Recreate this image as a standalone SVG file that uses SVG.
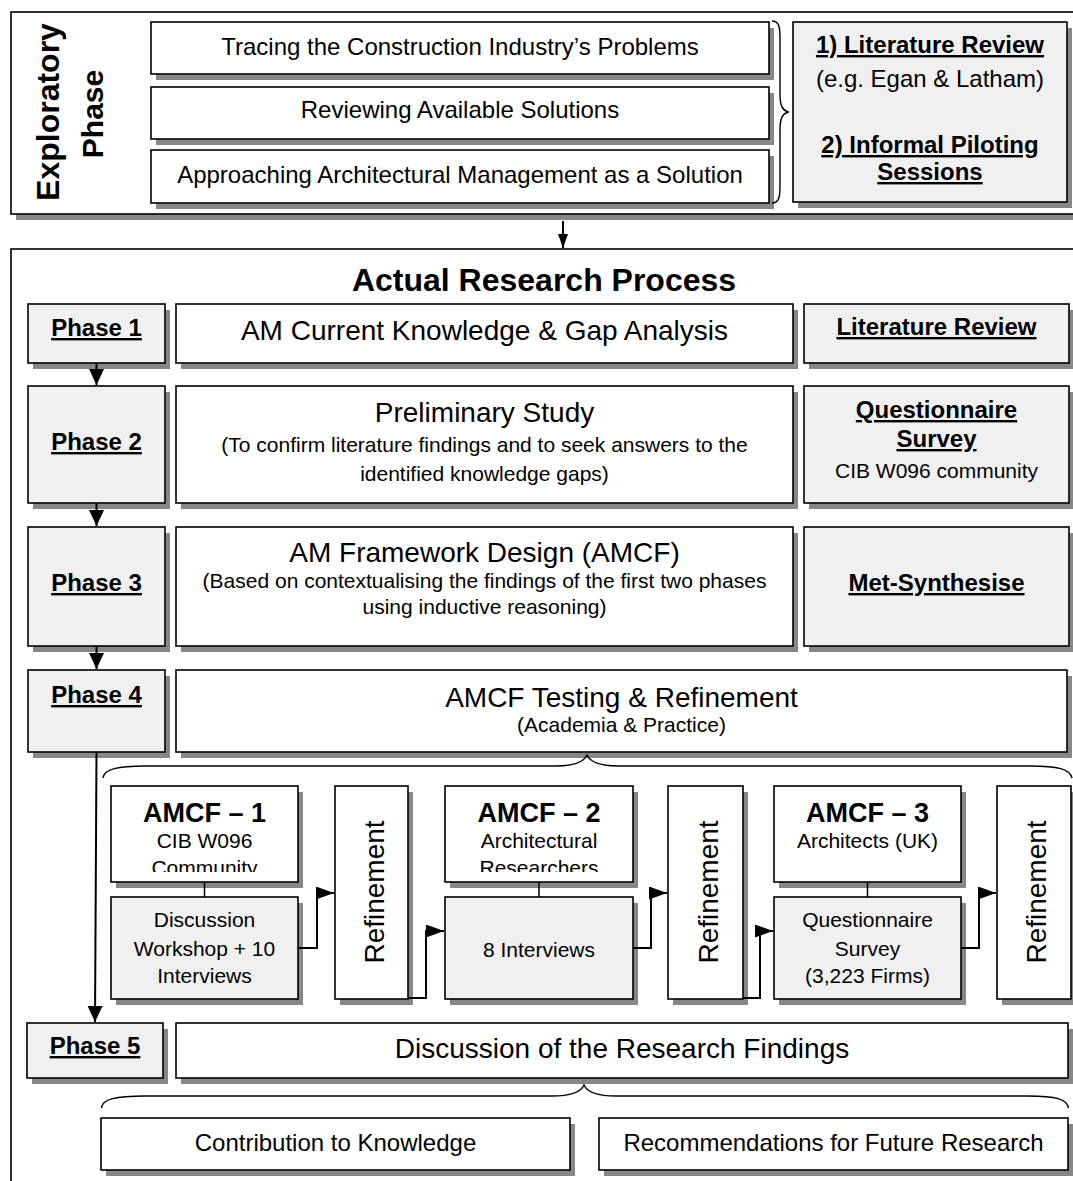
<svg xmlns="http://www.w3.org/2000/svg" width="1073" height="1181" viewBox="0 0 1073 1181">
  <style>
    .box { fill: #ffffff; stroke: #000000; stroke-width: 1.6; }
    .gbox { fill: #f0f0f0; stroke: #000000; stroke-width: 1.6; }
    .sh { fill: #878787; }
    .t { font-family: "Liberation Sans", Arial, sans-serif; fill: #000000; text-anchor: middle; }
    .b { font-weight: bold; }
    .u { text-decoration: underline; }
    .f21 { font-size: 21px; }
    .f24 { font-size: 24px; }
    .f27 { font-size: 27px; }
    .f28 { font-size: 28px; }
    .f30 { font-size: 30px; }
    .f32 { font-size: 32px; }
    .conn { fill: none; stroke: #000000; stroke-width: 2; }
    .tie { fill: none; stroke: #000000; stroke-width: 1.5; }
    .brace { fill: none; stroke: #000000; stroke-width: 1.4; }
  </style>
  <defs>
    <marker id="ah" markerUnits="userSpaceOnUse" markerWidth="16" markerHeight="16" refX="16" refY="7.5" orient="auto">
      <path d="M0,0 L16,7.5 L0,15 z" fill="#000"/>
    </marker>
    <marker id="ahm" markerUnits="userSpaceOnUse" markerWidth="18" markerHeight="14" refX="18" refY="6.5" orient="auto">
      <path d="M0,0 L18,6.5 L0,13 z" fill="#000"/>
    </marker>
    <marker id="ahs" markerUnits="userSpaceOnUse" markerWidth="14" markerHeight="11" refX="14" refY="5" orient="auto">
      <path d="M0,0 L14,5 L0,10 z" fill="#000"/>
    </marker>
    <clipPath id="hdrclip" clipPathUnits="userSpaceOnUse">
      <rect x="100" y="786" width="880" height="86"/>
    </clipPath>
  </defs>

  <rect width="1073" height="1181" fill="#ffffff"/>

  <!-- Exploratory phase panel -->
  <g id="exploratory-phase">
    <rect class="sh" x="16" y="18" width="1080" height="202"/>
    <rect class="box" x="11" y="12" width="1080" height="202"/>
    <text class="t b f32" transform="translate(58.5,112) rotate(-90)">Exploratory</text>
    <text class="t b f30" transform="translate(103,114) rotate(-90)">Phase</text>
  </g>

  <g id="exp-problems">
    <rect class="sh" x="156" y="28" width="618" height="52"/>
    <rect class="box" x="151" y="22" width="618" height="52"/>
    <text class="t f24" x="460" y="55">Tracing the Construction Industry’s Problems</text>
  </g>
  <g id="exp-solutions">
    <rect class="sh" x="156" y="93" width="618" height="52"/>
    <rect class="box" x="151" y="87" width="618" height="52"/>
    <text class="t f24" x="460" y="118">Reviewing Available Solutions</text>
  </g>
  <g id="exp-approach">
    <rect class="sh" x="156" y="156" width="618" height="53"/>
    <rect class="box" x="151" y="150" width="618" height="53"/>
    <text class="t f24" x="460" y="183">Approaching Architectural Management as a Solution</text>
  </g>
  <g id="exp-methods">
    <rect class="sh" x="798" y="28" width="274" height="180"/>
    <rect class="gbox" x="793" y="22" width="274" height="180"/>
    <text class="t b u f24" x="930" y="53">1) Literature Review</text>
    <text class="t f24" x="930" y="87">(e.g. Egan &amp; Latham)</text>
    <text class="t b u f24" x="930" y="153">2) Informal Piloting</text>
    <text class="t b u f24" x="930" y="180">Sessions</text>
  </g>

  <!-- Actual research process panel -->
  <g id="research-process">
    <rect class="box" x="11" y="249" width="1100" height="1000"/>
    <text class="t b f32" x="544" y="291">Actual Research Process</text>
  </g>

  <!-- Phase 1 -->
  <g id="phase1">
    <rect class="sh" x="33" y="310" width="137" height="59"/>
    <rect class="gbox" x="28" y="304" width="137" height="59"/>
    <text class="t b u f24" x="96.5" y="336">Phase 1</text>
  </g>
  <g id="phase1-task">
    <rect class="sh" x="181" y="310" width="617" height="59"/>
    <rect class="box" x="176" y="304" width="617" height="59"/>
    <text class="t f28" x="484.5" y="340">AM Current Knowledge &amp; Gap Analysis</text>
  </g>
  <g id="phase1-method">
    <rect class="sh" x="809" y="310" width="265" height="59"/>
    <rect class="gbox" x="804" y="304" width="265" height="59"/>
    <text class="t b u f24" x="936.5" y="335">Literature Review</text>
  </g>

  <!-- Phase 2 -->
  <g id="phase2">
    <rect class="sh" x="33" y="392" width="137" height="117"/>
    <rect class="gbox" x="28" y="386" width="137" height="117"/>
    <text class="t b u f24" x="96.5" y="450">Phase 2</text>
  </g>
  <g id="phase2-task">
    <rect class="sh" x="181" y="392" width="617" height="117"/>
    <rect class="box" x="176" y="386" width="617" height="117"/>
    <text class="t f28" x="484.5" y="422">Preliminary Study</text>
    <text class="t f21" x="484.5" y="452">(To confirm literature findings and to seek answers to the</text>
    <text class="t f21" x="484.5" y="481">identified knowledge gaps)</text>
  </g>
  <g id="phase2-method">
    <rect class="sh" x="809" y="392" width="265" height="117"/>
    <rect class="gbox" x="804" y="386" width="265" height="117"/>
    <text class="t b u f24" x="936.5" y="418">Questionnaire</text>
    <text class="t b u f24" x="936.5" y="447">Survey</text>
    <text class="t f21" x="936.5" y="478">CIB W096 community</text>
  </g>

  <!-- Phase 3 -->
  <g id="phase3">
    <rect class="sh" x="33" y="533" width="137" height="119"/>
    <rect class="gbox" x="28" y="527" width="137" height="119"/>
    <text class="t b u f24" x="96.5" y="591">Phase 3</text>
  </g>
  <g id="phase3-task">
    <rect class="sh" x="181" y="533" width="617" height="119"/>
    <rect class="box" x="176" y="527" width="617" height="119"/>
    <text class="t f28" x="484.5" y="562">AM Framework Design (AMCF)</text>
    <text class="t f21" x="484.5" y="588">(Based on contextualising the findings of the first two phases</text>
    <text class="t f21" x="484.5" y="614">using inductive reasoning)</text>
  </g>
  <g id="phase3-method">
    <rect class="sh" x="809" y="533" width="265" height="119"/>
    <rect class="gbox" x="804" y="527" width="265" height="119"/>
    <text class="t b u f24" x="936.5" y="591">Met-Synthesise</text>
  </g>

  <!-- Phase 4 -->
  <g id="phase4">
    <rect class="sh" x="33" y="676" width="137" height="82"/>
    <rect class="gbox" x="28" y="670" width="137" height="82"/>
    <text class="t b u f24" x="96.5" y="703">Phase 4</text>
  </g>
  <g id="phase4-task">
    <rect class="sh" x="181" y="676" width="891" height="82"/>
    <rect class="box" x="176" y="670" width="891" height="82"/>
    <text class="t f28" x="621.5" y="707">AMCF Testing &amp; Refinement</text>
    <text class="t f21" x="621.5" y="732">(Academia &amp; Practice)</text>
  </g>

  <!-- AMCF testing rounds -->
  <g id="amcf1">
    <rect class="sh" x="116" y="792" width="187" height="96"/>
    <rect class="box" x="111" y="786" width="187" height="96"/>
    <text class="t b f27" x="204.5" y="822">AMCF – 1</text>
    <g clip-path="url(#hdrclip)">
      <text class="t f21" x="204.5" y="848">CIB W096</text>
      <text class="t f21" x="204.5" y="875">Community</text>
    </g>
  </g>
  <g id="amcf1-method">
    <rect class="sh" x="116" y="903" width="187" height="102"/>
    <rect class="gbox" x="111" y="897" width="187" height="102"/>
    <text class="t f21" x="204.5" y="927">Discussion</text>
    <text class="t f21" x="204.5" y="956">Workshop + 10</text>
    <text class="t f21" x="204.5" y="983">Interviews</text>
  </g>
  <g id="refinement1">
    <rect class="sh" x="340" y="792" width="73" height="213"/>
    <rect class="box" x="335" y="786" width="73" height="213"/>
    <text class="t f28" transform="translate(383.5,892) rotate(-90)">Refinement</text>
  </g>

  <g id="amcf2">
    <rect class="sh" x="450" y="792" width="188" height="96"/>
    <rect class="box" x="445" y="786" width="188" height="96"/>
    <text class="t b f27" x="539" y="822">AMCF – 2</text>
    <g clip-path="url(#hdrclip)">
      <text class="t f21" x="539" y="848">Architectural</text>
      <text class="t f21" x="539" y="875">Researchers</text>
    </g>
  </g>
  <g id="amcf2-method">
    <rect class="sh" x="450" y="903" width="188" height="102"/>
    <rect class="gbox" x="445" y="897" width="188" height="102"/>
    <text class="t f21" x="539" y="957">8 Interviews</text>
  </g>
  <g id="refinement2">
    <rect class="sh" x="673" y="792" width="75" height="213"/>
    <rect class="box" x="668" y="786" width="75" height="213"/>
    <text class="t f28" transform="translate(717.5,892) rotate(-90)">Refinement</text>
  </g>

  <g id="amcf3">
    <rect class="sh" x="779" y="792" width="187" height="96"/>
    <rect class="box" x="774" y="786" width="187" height="96"/>
    <text class="t b f27" x="867.5" y="822">AMCF – 3</text>
    <text class="t f21" x="867.5" y="848">Architects (UK)</text>
  </g>
  <g id="amcf3-method">
    <rect class="sh" x="779" y="903" width="187" height="102"/>
    <rect class="gbox" x="774" y="897" width="187" height="102"/>
    <text class="t f21" x="867.5" y="927">Questionnaire</text>
    <text class="t f21" x="867.5" y="956">Survey</text>
    <text class="t f21" x="867.5" y="983">(3,223 Firms)</text>
  </g>
  <g id="refinement3">
    <rect class="sh" x="1002" y="792" width="74" height="213"/>
    <rect class="box" x="997" y="786" width="74" height="213"/>
    <text class="t f28" transform="translate(1046,892) rotate(-90)">Refinement</text>
  </g>

  <!-- Phase 5 -->
  <g id="phase5">
    <rect class="sh" x="32" y="1029" width="136" height="55"/>
    <rect class="gbox" x="27" y="1023" width="136" height="55"/>
    <text class="t b u f24" x="95" y="1054">Phase 5</text>
  </g>
  <g id="phase5-task">
    <rect class="sh" x="181" y="1029" width="892" height="55"/>
    <rect class="box" x="176" y="1023" width="892" height="55"/>
    <text class="t f28" x="622" y="1058">Discussion of the Research Findings</text>
  </g>
  <g id="contribution">
    <rect class="sh" x="106" y="1124" width="469" height="52"/>
    <rect class="box" x="101" y="1118" width="469" height="52"/>
    <text class="t f24" x="335.5" y="1151">Contribution to Knowledge</text>
  </g>
  <g id="recommendations">
    <rect class="sh" x="604" y="1124" width="469" height="52"/>
    <rect class="box" x="599" y="1118" width="469" height="52"/>
    <text class="t f24" x="833.5" y="1151">Recommendations for Future Research</text>
  </g>

  <!-- Connectors and braces -->
  <g id="connectors">
    <path class="brace" d="M772,21 C779,21 780,27 780,38 L780,94 C780,105 782,110 788,112 C782,114 780,119 780,130 L780,186 C780,197 779,203 772,203"/>
    <line class="conn" x1="563" y1="221" x2="563" y2="248" marker-end="url(#ahs)"/>

    <line class="conn" x1="96.5" y1="363" x2="96.5" y2="385" marker-end="url(#ah)"/>
    <line class="conn" x1="96.5" y1="503" x2="96.5" y2="526" marker-end="url(#ah)"/>
    <line class="conn" x1="96.5" y1="646" x2="96.5" y2="669" marker-end="url(#ah)"/>
    <line class="conn" x1="96.5" y1="752" x2="95" y2="1022" marker-end="url(#ah)"/>

    <path class="brace" d="M103,778 C104,769 118,766 145,766 L555,766 C575,766 584,762 587,755 C590,762 599,766 619,766 L1030,766 C1058,766 1070,769 1072,778"/>

    <line class="tie" x1="204.5" y1="882" x2="204.5" y2="897"/>
    <line class="tie" x1="539" y1="882" x2="539" y2="897"/>
    <line class="tie" x1="867.5" y1="882" x2="867.5" y2="897"/>

    <path class="conn" d="M298,948 H317 V893 H334" marker-end="url(#ahm)"/>
    <path class="conn" d="M408,998 H426 V931 H444" marker-end="url(#ahm)"/>
    <path class="conn" d="M633,948 H651 V893 H667" marker-end="url(#ahm)"/>
    <path class="conn" d="M743,998 H760 V931 H773" marker-end="url(#ahm)"/>
    <path class="conn" d="M961,948 H979 V893 H996" marker-end="url(#ahm)"/>

    <path class="brace" d="M101.5,1108 C102,1099 116,1096 145,1096 L552,1096 C572,1096 581,1092 584,1085 C587,1092 596,1096 616,1096 L1028,1096 C1056,1096 1067,1099 1068.5,1108"/>
  </g>
</svg>
